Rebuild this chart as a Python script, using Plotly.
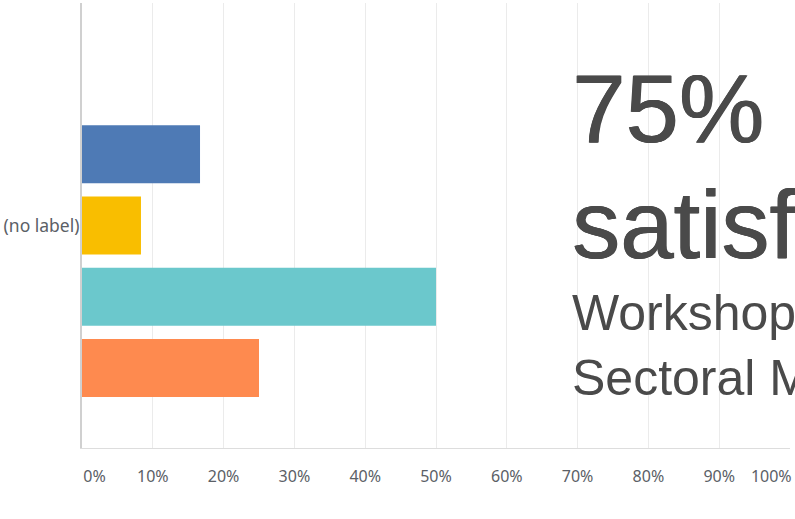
import plotly.graph_objects as go

# ---- data ----
categories = ["(no label)"]
series_names = ["Response E", "Response D", "Response C", "Response B", "Response A"]
# listed bottom -> top as drawn
series_values = [0.25, 0.50, 0.0833, 0.1667, 0.0]
series_colors = ["#fe8a4f", "#6bc8cc", "#f9be00", "#4e7ab5", "#9e9e9e"]
tick_values = [0, 0.1, 0.2, 0.3, 0.4, 0.5, 0.6, 0.7, 0.8, 0.9, 1.0]
tick_labels = ["0%", "10%", "20%", "30%", "40%", "50%", "60%", "70%", "80%", "90%", "100%"]

headline = "75%"
headline2 = "satisfaction"
subtitle = "Workshop<br>Sectoral Meeting"

fig = go.Figure()
for name, val, col in zip(series_names, series_values, series_colors):
    fig.add_trace(go.Bar(
        y=categories, x=[val], name=name, orientation="h",
        marker=dict(color=col, line=dict(width=0)),
        showlegend=False, hoverinfo="x+name",
    ))

# pad edge labels so they sit inside the plot like the reference
ticktext = list(tick_labels)
ticktext[0] = "\u00a0" * 6 + ticktext[0]
ticktext[-1] = ticktext[-1] + "\u00a0" * 9

BIG_FONT = "Liberation Sans"
BIG_COLOR = "#4a4a4a"
THICK = "0.7px 0 0 #4a4a4a, -0.3px 0 0 #4a4a4a"

fig.update_layout(
    width=795, height=519,
    margin=dict(l=82, r=5, t=3, b=71, autoexpand=False),
    paper_bgcolor="white", plot_bgcolor="white",
    barmode="group", bargap=0.2, bargroupgap=0.185,
    font=dict(family="Noto Sans", color="#5b6066", size=16),
    xaxis=dict(
        range=[0, 1], tickvals=tick_values, ticktext=ticktext,
        showgrid=True, gridcolor="#ebebeb", gridwidth=1,
        zeroline=False, showline=True, linecolor="#dddddd", linewidth=1,
        ticks="", ticklabelstandoff=14, ticklabeloverflow="allow",
        fixedrange=True, automargin=False,
        tickfont=dict(family="Noto Sans", size=16, color="#5b6066"),
    ),
    yaxis=dict(
        showgrid=False, zeroline=False, showline=True,
        linecolor="#d0d0d0", linewidth=2, ticks="",
        ticklabelstandoff=-3, automargin=False, fixedrange=True,
        tickfont=dict(family="Noto Sans", size=17.5, color="#5b6066"),
    ),
    annotations=[
        dict(text=headline, xref="paper", yref="paper", x=0.689, y=0.8876,
             xanchor="left", yanchor="top", showarrow=False, align="left",
             font=dict(family=BIG_FONT, size=96, color=BIG_COLOR, shadow=THICK)),
        dict(text=headline2, xref="paper", yref="paper", x=0.689, y=0.627,
             xanchor="left", yanchor="top", showarrow=False, align="left",
             font=dict(family=BIG_FONT, size=96, color=BIG_COLOR, shadow=THICK)),
        dict(text=subtitle, xref="paper", yref="paper", x=0.689, y=0.3712,
             xanchor="left", yanchor="top", showarrow=False, align="left",
             font=dict(family=BIG_FONT, size=50, color=BIG_COLOR)),
    ],
)

fig.write_html(
    "out.html",
    config={"displayModeBar": False},
    post_script="document.body.style.margin='0';",
)
